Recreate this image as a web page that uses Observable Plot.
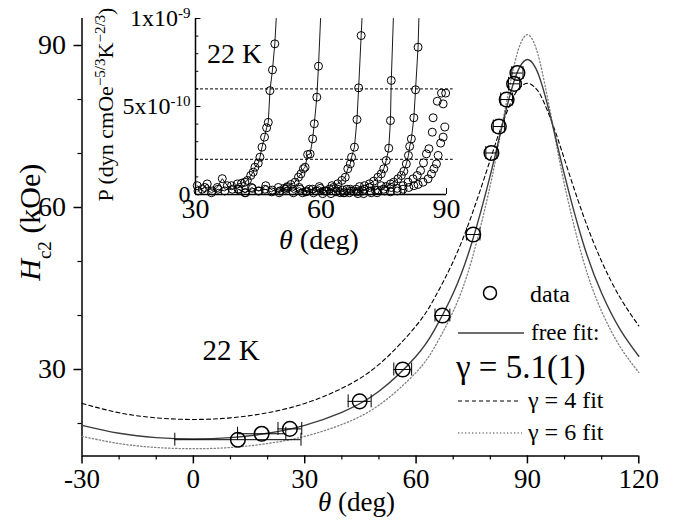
<!DOCTYPE html>
<html><head><meta charset="utf-8">
<script src="https://cdn.jsdelivr.net/npm/d3@7"></script>
<script src="https://cdn.jsdelivr.net/npm/@observablehq/plot@0.6"></script>
<style>
body{margin:0;background:#fff;}
#wrap{position:relative;width:685px;height:523px;font-family:"Liberation Serif",serif;}
#wrap > svg{position:absolute;left:0;top:0;}
#wrap text{font-family:"Liberation Serif",serif;}
</style></head><body><div id="wrap"></div>
<script>
// ---------- main panel data ----------
const dataTheta = [12.0, 18.4, 26.0, 44.8, 56.4, 67.1, 75.4, 80.3, 82.3, 84.4, 86.4, 87.3];
const dataHc2   = [17.0, 18.1, 19.0, 24.1, 30.0, 40.0, 55.0, 70.1, 75.0, 80.0, 82.9, 84.9];
const dataErr   = [17.0, 6.5, 3.2, 3.1, 2.4, 2.0, 1.8, 1.5, 1.5, 1.6, 1.5, 1.5];

const fitTheta  = [-30,-20,-10,0,10,20,30,40,50,60,65,70,75,80,83,86,88,90,92,94,97,100,105,110,115,120];
const freeFit   = [19.66,18.19,17.39,17.14,17.39,18.19,19.66,22.07,25.96,32.45,37.38,44.11,53.43,65.99,74.63,82.52,86.10,87.4,86.10,82.52,74.63,65.99,53.43,44.11,37.38,32.45];
const gamma4Fit = [23.71,21.99,21.05,20.75,21.05,21.99,23.71,26.51,30.94,38.08,43.27,50.01,58.62,68.88,75.06,80.13,82.25,83.0,82.25,80.13,75.06,68.88,58.62,50.01,43.27,38.08];
const gamma6Fit = [17.62,16.29,15.56,15.33,15.56,16.29,17.62,19.82,23.40,29.46,34.17,40.76,50.30,64.17,74.63,85.04,90.10,92.0,90.10,85.04,74.63,64.17,50.30,40.76,34.17,29.46];

const xMajorTicks = [-30, 0, 30, 60, 90, 120];
const xMinorTicks = [-20, -10, 10, 20, 40, 50, 70, 80, 100, 110];
const yMajorTicks = [30, 60, 90];
const yMinorTicks = [20, 40, 50, 70, 80];

// ---------- inset data (P in units of 1e-10) ----------
const insetCurve1 = [[30.4,0.5],[31.6,0.3],[32.8,0.6],[34.0,0.2],[35.2,0.4],[36.4,0.9],[37.6,0.5],[38.8,0.3],[40.0,0.6],[41.0,0.64],[41.8,0.7],[42.4,0.8],[43.2,1.08],[43.8,1.27],[44.2,1.55],[45.0,1.78],[45.4,2.12],[45.9,2.69],[46.5,3.26],[47.0,3.79],[47.4,4.1],[47.8,5.9],[48.4,7.08],[48.96,8.56]];
const insetCurve2 = [[30.6,0.2],[32.2,0.4],[33.8,0.1],[35.4,0.3],[37.0,0.2],[38.6,0.5],[40.2,0.3],[41.8,0.1],[43.4,0.4],[45.0,0.2],[46.6,0.3],[48.2,0.15],[49.8,0.4],[51.2,0.35],[52.0,0.45],[52.8,0.57],[53.8,0.70],[54.6,0.98],[55.2,1.17],[55.8,1.46],[56.2,1.55],[56.8,2.27],[57.4,2.3],[58.0,3.16],[58.4,4.02],[59.0,5.53],[59.4,7.29]];
const insetCurve3 = [[40.4,0.3],[42.0,0.1],[43.6,0.35],[45.2,0.2],[46.8,0.5],[48.4,0.25],[50.0,0.1],[51.6,0.3],[53.2,0.2],[54.8,0.4],[56.4,0.15],[58.0,0.3],[59.6,0.45],[61.2,0.2],[62.6,0.5],[64.0,0.61],[65.0,0.80],[65.8,0.98],[66.4,1.46],[67.0,1.74],[67.3,2.12],[68.0,2.69],[68.6,4.26],[69.0,6.06],[69.6,9.03]];
const insetCurve4 = [[50.2,0.2],[51.8,0.4],[53.4,0.1],[55.0,0.3],[56.6,0.2],[58.2,0.1],[59.8,0.35],[61.4,0.2],[63.0,0.4],[64.6,0.1],[66.2,0.3],[67.8,0.2],[69.2,0.45],[70.4,0.5],[71.6,0.61],[72.6,0.76],[73.6,0.98],[74.4,1.17],[75.0,1.46],[75.6,1.93],[76.2,2.63],[76.6,4.2],[76.8,6.48]];
const insetCurve5 = [[55.6,0.1],[57.2,0.3],[58.8,0.2],[60.4,0.05],[62.0,0.3],[63.6,0.15],[65.2,0.25],[66.8,0.1],[68.4,0.3],[70.0,0.2],[71.6,0.4],[73.0,0.25],[74.4,0.5],[75.6,0.45],[76.6,0.6],[77.4,0.70],[78.4,0.89],[79.2,1.08],[79.8,1.32],[80.4,1.74],[80.9,2.22],[81.2,2.73],[81.6,3.16],[82.2,4.36],[82.6,5.95],[83.2,8.37]];
const insetCurve6 = [[60.8,0.2],[62.4,0.05],[64.0,0.3],[65.6,0.1],[67.2,0.2],[68.8,0.05],[70.4,0.3],[72.0,0.1],[73.6,0.25],[75.2,0.2],[76.8,0.4],[78.2,0.35],[79.6,0.5],[80.8,0.7],[82.0,0.89],[83.0,1.08],[83.8,1.36],[84.5,1.8],[85.2,2.31],[85.8,2.6],[86.6,3.54],[86.8,4.36],[87.8,5.3],[88.8,5.76],[89.2,5.15],[89.8,5.76]];
const insetCurve7 = [[65.4,0.1],[67.0,0.3],[68.6,0.15],[70.2,0.05],[71.8,0.2],[73.4,0.1],[75.0,0.3],[76.6,0.15],[78.2,0.2],[79.6,0.3],[81.0,0.4],[82.2,0.5],[83.2,0.57],[84.4,0.70],[85.6,0.89],[86.4,1.17],[87.0,1.46],[87.6,1.74],[88.0,2.22],[88.6,2.92],[89.2,3.26],[89.6,3.83]];
const insetTopTheta = [49.3, 59.9, 69.8, 77.3, 83.4]; // where the connecting lines of curves 1-5 leave the top (P = 1e-9)
const insetTopP = 10;
const insetRefLines = [2, 6];
const insetXTicks = [30, 40, 50, 60, 70, 80, 90];
const insetXLabels = [30, 60, 90];
const insetYTicks = [0,1,2,3,4,5,6,7,8,9,10];
const insetYLabelValues = [0, 5, 10];
const insetYLabelText = ["0", "5x10-10", "1x10-9"];

const legendLabels = ["data", "free fit:", "γ = 5.1(1)", "γ = 4 fit", "γ = 6 fit"];
const tempLabel = "22 K";

// ---------- build tables ----------
const points = dataTheta.map((t, i) => ({t, h: dataHc2[i], e: dataErr[i]}));
const fits = [freeFit, gamma4Fit, gamma6Fit].map(vals => fitTheta.map((t, i) => ({t, h: vals[i]})));

const FONT = '"Liberation Serif", serif';
const wrap = document.getElementById("wrap");

const main = Plot.plot({
  width: 685, height: 523,
  marginLeft: 81.5, marginRight: 46.7, marginTop: 18, marginBottom: 67.6,
  x: {domain: [-30, 120]},
  y: {domain: [14, 95]},
  style: {fontFamily: FONT, background: "transparent", color: "black"},
  marks: [
    Plot.ruleX([-30], {stroke: "black", strokeWidth: 1.5}),
    Plot.ruleY([14], {stroke: "black", strokeWidth: 1.5}),
    Plot.axisX({ticks: xMajorTicks, tickSize: 8, tickPadding: 5, fontSize: 27, tickFormat: d => String(d), label: null, strokeWidth: 1.5}),
    Plot.axisX({ticks: xMinorTicks, tickSize: 4, tickFormat: () => "", label: null, strokeWidth: 1.2}),
    Plot.axisY({ticks: yMajorTicks, tickSize: 8, tickPadding: 8, fontSize: 28, tickFormat: d => String(d), label: null, strokeWidth: 1.5}),
    Plot.axisY({ticks: yMinorTicks, tickSize: 4, tickFormat: () => "", label: null, strokeWidth: 1.2}),
    Plot.line(fits[1], {x: "t", y: "h", curve: "natural", stroke: "black", strokeWidth: 1.1, strokeDasharray: "4,3"}),
    Plot.line(fits[2], {x: "t", y: "h", curve: "natural", stroke: "#808080", strokeWidth: 1.3, strokeDasharray: "1.3,2.2"}),
    Plot.line(fits[0], {x: "t", y: "h", curve: "natural", stroke: "#3c3c3c", strokeWidth: 1.4}),
    Plot.ruleY(points, {y: "h", x1: d => d.t - d.e, x2: d => d.t + d.e, stroke: "black", strokeWidth: 1}),
    Plot.ruleX(points, {x: d => d.t - d.e, y1: d => d.h - 1.2, y2: d => d.h + 1.2, stroke: "black", strokeWidth: 1}),
    Plot.ruleX(points, {x: d => d.t + d.e, y1: d => d.h - 1.2, y2: d => d.h + 1.2, stroke: "black", strokeWidth: 1}),
    Plot.dot(points, {x: "t", y: "h", r: 7.3, stroke: "black", strokeWidth: 1.5, fill: "none"}),
    Plot.text(["θ (deg)"], {frameAnchor: "bottom", lineAnchor: "middle", dx: -4, dy: 46, fontSize: 27, textAnchor: "middle"}),
    Plot.text(["Hc2 (kOe)"], {frameAnchor: "left", lineAnchor: "middle", rotate: -90, dx: -52, dy: -15, fontSize: 30, textAnchor: "middle"})
  ]
});
wrap.appendChild(main);

const insetCurves = [insetCurve1, insetCurve2, insetCurve3, insetCurve4, insetCurve5, insetCurve6, insetCurve7]
  .map((c, k) => c.map(([t, p]) => ({t, p, k})));
const insetLines = insetCurves.slice(0, 5).map((c, k) => c.concat([{t: insetTopTheta[k], p: insetTopP, k}]));

const inset = Plot.plot({
  width: 685, height: 523,
  marginLeft: 195, marginRight: 239, marginTop: 18, marginBottom: 329,
  x: {domain: [30, 90]},
  y: {domain: [0, 10]},
  style: {fontFamily: FONT, background: "transparent", color: "black"},
  marks: [
    Plot.ruleY(insetRefLines, {x1: 30, x2: 91.6, stroke: "black", strokeWidth: 1, strokeDasharray: "3,2"}),
    Plot.ruleX([30], {stroke: "black", strokeWidth: 1.5}),
    Plot.ruleY([0], {stroke: "black", strokeWidth: 1.5}),
    Plot.ruleX(insetXTicks, {x: d => d, y1: 0, y2: d => (d % 30 === 0 ? 0.35 : 0.25), stroke: "black", strokeWidth: 1}),
    Plot.ruleY(insetYTicks, {y: d => d, x1: 30, x2: d => (d % 5 === 0 ? 31.3 : 30.8), stroke: "black", strokeWidth: 1}),
    Plot.axisX({ticks: insetXLabels, tickSize: 0, tickPadding: 4, fontSize: 28, tickFormat: d => String(d), label: null}),
    Plot.axisY({ticks: insetYLabelValues, tickSize: 0, tickPadding: 5, fontSize: 24, tickFormat: d => insetYLabelText[insetYLabelValues.indexOf(d)], label: null}),
    ...insetLines.map(c => Plot.line(c, {x: "t", y: "p", stroke: "black", strokeWidth: 0.9})),
    ...insetCurves.map(c => Plot.dot(c, {x: "t", y: "p", r: 4, stroke: "black", strokeWidth: 1, fill: "none"})),
    Plot.text(["θ (deg)"], {frameAnchor: "bottom", lineAnchor: "middle", dx: -2, dy: 46, fontSize: 28, textAnchor: "middle"}),
    Plot.text(["P (dyncmOe-5/3K-2/3)"], {frameAnchor: "left", lineAnchor: "middle", rotate: -90, dx: -90, dy: -2, fontSize: 22, textAnchor: "middle"}),
    Plot.text([tempLabel], {frameAnchor: "top-left", lineAnchor: "middle", dx: 39, dy: 36, fontSize: 28, textAnchor: "middle"})
  ]
});
wrap.appendChild(inset);

// rich text (italics, sub/superscripts)
function richText(root, plain, parts) {
  d3.select(root).selectAll("text").filter(function () { return this.textContent === plain; }).each(function () {
    const t = d3.select(this);
    t.text(null);
    for (const p of parts) {
      const s = t.append("tspan").text(p.t);
      if (p.italic) s.attr("font-style", "italic");
      if (p.shift) s.attr("baseline-shift", p.shift);
      if (p.size) s.attr("font-size", p.size);
    }
  });
}
richText(main, "θ (deg)", [{t: "θ", italic: true}, {t: " (deg)"}]);
richText(inset, "θ (deg)", [{t: "θ", italic: true}, {t: " (deg)"}]);
richText(main, "Hc2 (kOe)", [{t: "H", italic: true}, {t: "c2", shift: "sub", size: 19}, {t: " (kOe)"}]);
richText(inset, "P (dyncmOe-5/3K-2/3)", [{t: "P (dyn cmOe"}, {t: "−5/3", shift: "super", size: 15}, {t: "K"}, {t: "−2/3", shift: "super", size: 15}, {t: ")"}]);
richText(inset, "1x10-9", [{t: "1x10"}, {t: "-9", shift: "super", size: 15}]);
richText(inset, "5x10-10", [{t: "5x10"}, {t: "-10", shift: "super", size: 15}]);

// legend and annotation layer
const leg = d3.select(wrap).append("svg").attr("width", 685).attr("height", 523)
  .attr("font-family", FONT).style("pointer-events", "none");
leg.append("circle").attr("cx", 490).attr("cy", 293).attr("r", 6.5).attr("fill", "none").attr("stroke", "black").attr("stroke-width", 1.5);
leg.append("text").attr("x", 530).attr("y", 294).attr("dominant-baseline", "central").attr("font-size", 24).text(legendLabels[0]);
leg.append("line").attr("x1", 458).attr("x2", 524).attr("y1", 333).attr("y2", 333).attr("stroke", "#3c3c3c").attr("stroke-width", 1.4);
leg.append("text").attr("x", 531).attr("y", 332).attr("dominant-baseline", "central").attr("font-size", 23).text(legendLabels[1]);
leg.append("text").attr("x", 456).attr("y", 367).attr("dominant-baseline", "central").attr("font-size", 33).text(legendLabels[2]);
leg.append("line").attr("x1", 458).attr("x2", 521).attr("y1", 401).attr("y2", 401).attr("stroke", "black").attr("stroke-width", 1.1).attr("stroke-dasharray", "4,3");
leg.append("text").attr("x", 528).attr("y", 400).attr("dominant-baseline", "central").attr("font-size", 24).text(legendLabels[3]);
leg.append("line").attr("x1", 458).attr("x2", 522).attr("y1", 433).attr("y2", 433).attr("stroke", "#808080").attr("stroke-width", 1.3).attr("stroke-dasharray", "1.3,2.2");
leg.append("text").attr("x", 528).attr("y", 432).attr("dominant-baseline", "central").attr("font-size", 24).text(legendLabels[4]);
leg.append("text").attr("x", 231).attr("y", 350).attr("text-anchor", "middle").attr("dominant-baseline", "central").attr("font-size", 29).text(tempLabel);
</script></body></html>
